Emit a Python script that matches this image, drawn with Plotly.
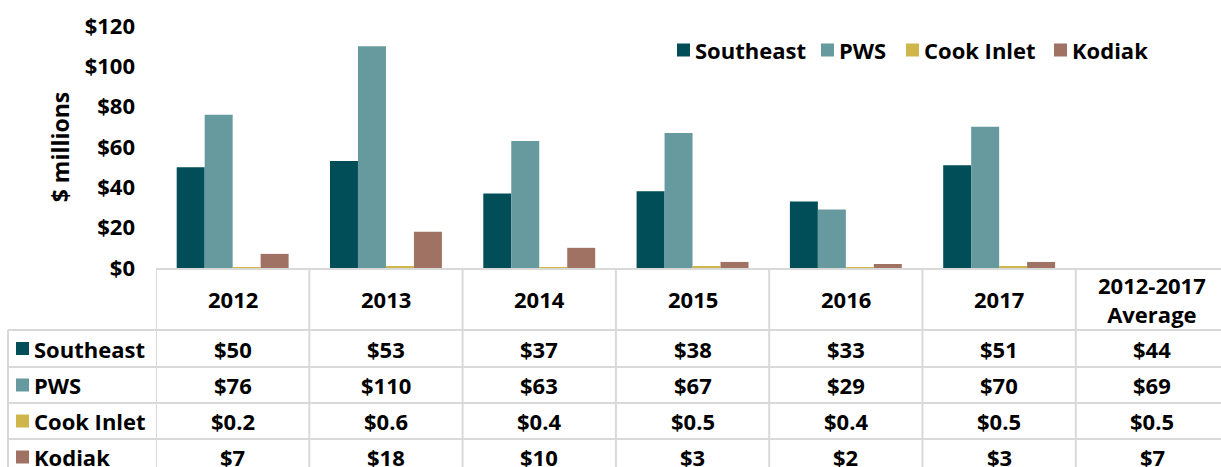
import plotly.graph_objects as go

categories = ["2012", "2013", "2014", "2015", "2016", "2017", "2012-2017<br>Average"]
series_names = ["Southeast", "PWS", "Cook Inlet", "Kodiak"]
southeast = [50, 53, 37, 38, 33, 51]
pws = [76, 110, 63, 67, 29, 70]
cook_inlet = [0.2, 0.6, 0.4, 0.5, 0.4, 0.5]
kodiak = [7, 18, 10, 3, 2, 3]
average = [44, 69, 0.5, 7]  # Southeast, PWS, Cook Inlet, Kodiak
y_ticks = [0, 20, 40, 60, 80, 100, 120]
colors = ["#024E58", "#669A9E", "#CFB64A", "#A07264"]

series = [southeast, pws, cook_inlet, kodiak]

W, H = 1221, 467
ML, MR, MT, MB = 156, 0, 26, 199
plot_w = W - ML - MR
plot_h = H - MT - MB
col_px = 153.3
FONT = "Open Sans"
FS = 22
GRID = "#D9D9D9"
legend_px = [677, 821, 906, 1054]   # legend item left edges (layout)
legend_y_px = 50

def fmt(v):
    return f"${v:.1f}" if v < 1 else f"${v:.0f}"

def bfont(size=FS):
    return dict(family=FONT, size=size, color="black", weight="bold")

fig = go.Figure()
xs = list(range(len(southeast)))
for name, vals, c in zip(series_names, series, colors):
    fig.add_trace(go.Bar(x=xs, y=vals, name=name, marker=dict(color=c, line=dict(width=0)),
                         showlegend=False))

row_edges_px = [0, 62, 99, 135, 171, 207]
def py(px):
    return -px / plot_h
def pxp(x):
    return (x - ML) / plot_w
def pyabs(p):
    return (MT + plot_h - p) / plot_h

shapes = []
annotations = []
ncols = len(categories)
shapes.append(dict(type="line", xref="x", yref="paper", x0=-0.5, x1=ncols - 0.5,
                   y0=py(1), y1=py(1), line=dict(color=GRID, width=2)))
for e in row_edges_px[1:]:
    shapes.append(dict(type="line", xref="paper", yref="paper", x0=pxp(8), x1=1.01,
                       y0=py(e), y1=py(e), line=dict(color=GRID, width=2)))
for k in range(ncols + 1):
    shapes.append(dict(type="line", xref="x", yref="paper", x0=k - 0.5, x1=k - 0.5,
                       y0=0, y1=py(row_edges_px[-1]), line=dict(color=GRID, width=2)))
shapes.append(dict(type="line", xref="paper", yref="paper", x0=pxp(8), x1=pxp(8),
                   y0=py(row_edges_px[1]), y1=py(row_edges_px[-1]), line=dict(color=GRID, width=2)))

for k, cat in enumerate(categories):
    annotations.append(dict(x=k, xref="x", y=py((row_edges_px[0] + row_edges_px[1]) / 2), yref="paper",
                            text=cat, showarrow=False, xanchor="center", yanchor="middle",
                            font=bfont()))
for r, (name, vals, c) in enumerate(zip(series_names, series, colors)):
    yc = (row_edges_px[r + 1] + row_edges_px[r + 2]) / 2
    shapes.append(dict(type="rect", xref="paper", yref="paper", x0=pxp(16), x1=pxp(29),
                       y0=py(yc - 6.5), y1=py(yc + 6.5), fillcolor=c, line=dict(width=0)))
    annotations.append(dict(x=pxp(32), xref="paper", y=py(yc), yref="paper",
                            text=name, showarrow=False, xanchor="left", yanchor="middle",
                            font=bfont()))
    row_vals = list(vals) + [average[r]]
    for k, v in enumerate(row_vals):
        annotations.append(dict(x=k, xref="x", y=py(yc), yref="paper",
                                text=fmt(v), showarrow=False, xanchor="center", yanchor="middle",
                                font=bfont()))
    # legend entry
    lx = legend_px[r]
    shapes.append(dict(type="rect", xref="paper", yref="paper", x0=pxp(lx), x1=pxp(lx + 13),
                       y0=pyabs(legend_y_px - 6.5), y1=pyabs(legend_y_px + 6.5),
                       fillcolor=c, line=dict(width=0)))
    annotations.append(dict(x=pxp(lx + 16), xref="paper", y=pyabs(legend_y_px), yref="paper",
                            text=name, showarrow=False, xanchor="left", yanchor="middle",
                            font=bfont()))

fig.update_layout(
    width=W, height=H,
    margin=dict(l=ML, r=MR, t=MT, b=MB, pad=0, autoexpand=False),
    paper_bgcolor="white", plot_bgcolor="white",
    barmode="group", bargap=0.27, bargroupgap=0,
    font=dict(family=FONT, size=FS, color="black"),
    showlegend=False,
    xaxis=dict(range=[-0.5, -0.5 + plot_w / col_px], showticklabels=False, showgrid=False,
               zeroline=False, showline=False, ticks="", automargin=False),
    yaxis=dict(range=[0, 120], tickvals=y_ticks, ticktext=[f"${t}" for t in y_ticks],
               showgrid=False, zeroline=False, showline=False, ticks="", ticklabelstandoff=20,
               automargin=False, tickfont=bfont(),
               title=dict(text="$ millions", standoff=8, font=bfont(23))),
    shapes=shapes, annotations=annotations,
)

fig.write_html("out.html", config={"displayModeBar": False},
               post_script="document.body.style.margin='0';")
